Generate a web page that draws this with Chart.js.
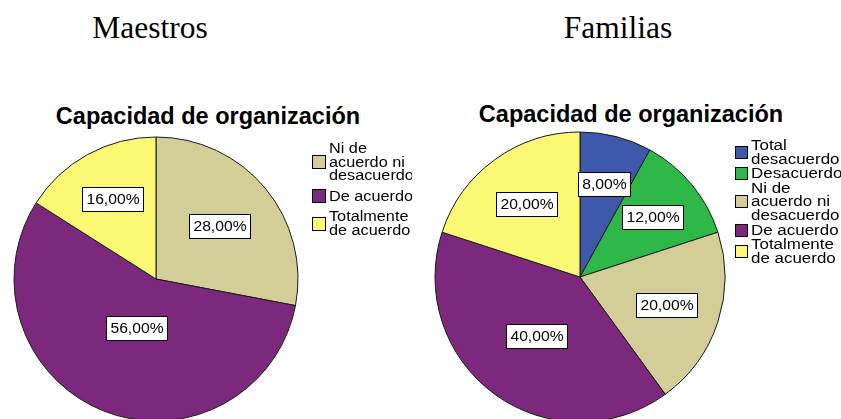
<!DOCTYPE html>
<html><head><meta charset="utf-8">
<script src="https://cdn.jsdelivr.net/npm/chart.js@4/dist/chart.umd.min.js"></script>
<style>
html,body{margin:0;padding:0;background:#fff;overflow:hidden;width:841px;height:419px;}
.h{position:absolute;font-family:'Liberation Serif','Times New Roman',serif;font-size:31.5px;line-height:32px;color:#000;white-space:nowrap;text-align:center;width:200px;}
.t{position:absolute;font-family:'Liberation Sans',Arial,sans-serif;font-weight:bold;font-size:23.5px;line-height:23px;color:#000;white-space:nowrap;text-align:center;width:400px;}
canvas{position:absolute;}
</style></head><body>
<div class="h" style="left:50px;top:12px">Maestros</div>
<div class="h" style="left:518px;top:12px">Familias</div>
<div class="t" style="left:8px;top:105px">Capacidad de organización</div>
<div class="t" style="left:431px;top:103px">Capacidad de organización</div>
<canvas id="c1" width="412" height="430" style="left:0;top:0"></canvas>
<canvas id="c2" width="421" height="430" style="left:420px;top:0"></canvas>
<script>
// ---- data ----
const chartTitle = 'Capacidad de organización';
const maestrosCategories = [['Ni de','acuerdo ni','desacuerdo'], ['De acuerdo'], ['Totalmente','de acuerdo']];
const maestrosValues = [28, 56, 16];
const maestrosColors = ['#D3CE97', '#7C287D', '#FBF873'];

const familiasCategories = [['Total','desacuerdo'], ['Desacuerdo'], ['Ni de','acuerdo ni','desacuerdo'], ['De acuerdo'], ['Totalmente','de acuerdo']];
const familiasValues = [8, 12, 20, 40, 20];
const familiasColors = ['#3E58AC', '#2EB848', '#D3CE97', '#7C287D', '#FBF873'];

// ---- plugins ----
const sliceLabels = {
  id: 'sliceLabels',
  afterDatasetsDraw(chart) {
    const ctx = chart.ctx;
    const meta = chart.getDatasetMeta(0);
    const ds = chart.data.datasets[0];
    const total = ds.data.reduce((a, b) => a + b, 0);
    const sx = 1.12;
    ctx.save();
    ctx.font = '14px "Liberation Sans", Arial, sans-serif';
    ctx.textAlign = 'center';
    ctx.textBaseline = 'middle';
    meta.data.forEach((arc, i) => {
      const p = arc.getProps(['x', 'y', 'startAngle', 'endAngle', 'outerRadius'], true);
      const th = p.endAngle - p.startAngle;
      const mid = (p.startAngle + p.endAngle) / 2;
      const d = 4 * p.outerRadius * Math.sin(th / 2) / (3 * th);
      const lx = p.x + Math.cos(mid) * d;
      const ly = p.y + Math.sin(mid) * d;
      const txt = (ds.data[i] / total * 100).toFixed(2).replace('.', ',') + '%';
      const w = Math.round(ctx.measureText(txt).width * sx + 8);
      const h = 24;
      const bx = Math.round(lx - w / 2) + 0.5, by = Math.round(ly - h / 2) + 0.5;
      ctx.fillStyle = '#fff';
      ctx.fillRect(bx, by, w, h);
      ctx.strokeStyle = '#000';
      ctx.lineWidth = 1;
      ctx.strokeRect(bx, by, w, h);
      ctx.fillStyle = '#000';
      ctx.save();
      ctx.translate(bx + w / 2, by + h / 2 + 1);
      ctx.scale(sx, 1);
      ctx.fillText(txt, 0, 0);
      ctx.restore();
    });
    ctx.restore();
  }
};

const sideLegend = {
  id: 'sideLegend',
  afterDraw(chart, args, opts) {
    const ctx = chart.ctx;
    const meta = chart.getDatasetMeta(0);
    const arc = meta.data[0];
    const p = arc.getProps(['x', 'outerRadius'], true);
    const ds = chart.data.datasets[0];
    const boxX = Math.round(p.x + p.outerRadius + opts.gap) + 0.5;
    const textX = boxX + opts.box + 3.5;
    let base = opts.firstBaseline;
    ctx.save();
    ctx.font = opts.fontSize + 'px "Liberation Sans", Arial, sans-serif';
    ctx.textAlign = 'left';
    ctx.textBaseline = 'alphabetic';
    chart.data.labels.forEach((lines, i) => {
      const first = base;
      lines.forEach((ln) => {
        ctx.fillStyle = '#000';
        ctx.save();
        ctx.translate(textX, base);
        ctx.scale(opts.stretch, 1);
        ctx.fillText(ln, 0, 0);
        ctx.restore();
        base += opts.pitch;
      });
      const last = base - opts.pitch;
      const cy = (first - opts.cap + last) / 2;
      const by = Math.round(cy - opts.box / 2) + 0.5;
      ctx.fillStyle = ds.backgroundColor[i];
      ctx.fillRect(boxX, by, opts.box, opts.box);
      ctx.strokeStyle = '#000';
      ctx.lineWidth = 1;
      ctx.strokeRect(boxX, by, opts.box, opts.box);
      base += opts.itemGap;
    });
    ctx.restore();
  }
};

function makePie(id, labels, values, colors, radius, padding, legendOpts) {
  return new Chart(document.getElementById(id), {
    type: 'pie',
    data: {
      labels: labels,
      datasets: [{
        data: values,
        backgroundColor: colors,
        borderColor: '#1a1a1a',
        borderWidth: 1
      }]
    },
    options: {
      responsive: false,
      animation: false,
      radius: radius,
      layout: { padding: padding },
      plugins: {
        legend: { display: false },
        tooltip: { enabled: false },
        title: { display: false, text: chartTitle },
        sideLegend: legendOpts
      }
    },
    plugins: [sliceLabels, sideLegend]
  });
}

makePie('c1', maestrosCategories, maestrosValues, maestrosColors, 142,
  { left: 0, right: 100, top: 136, bottom: 8 },
  { gap: 14, box: 13, fontSize: 14, stretch: 1.16, pitch: 13.5, itemGap: 7, firstBaseline: 153.3, cap: 10 });

makePie('c2', familiasCategories, familiasValues, familiasColors, 145,
  { left: 0, right: 101, top: 132, bottom: 8 },
  { gap: 10, box: 12, fontSize: 14, stretch: 1.21, pitch: 13.6, itemGap: 1, firstBaseline: 150, cap: 10 });
</script>
</body></html>
